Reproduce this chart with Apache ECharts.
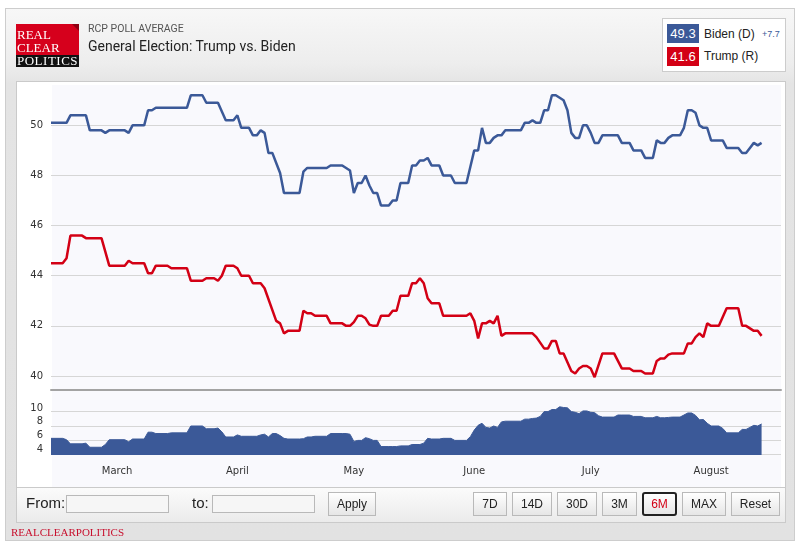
<!DOCTYPE html>
<html>
<head>
<meta charset="utf-8">
<script src="https://cdn.jsdelivr.net/npm/echarts@6/dist/echarts.min.js"></script>
<style>
  body{margin:0;width:800px;height:545px;background:#fff;position:relative;overflow:hidden;font-family:'Liberation Sans',Arial,sans-serif;}
  .abs{position:absolute;box-sizing:border-box;}
  #frame{left:5px;top:8px;width:790px;height:533px;border:1px solid #cdcdcd;background:linear-gradient(#f7f7f7 0px,#ededed 55px,#e4e4e4 75px,#e2e2e2 100%);z-index:0;}
  #panel{left:16px;top:81px;width:770px;height:407px;border:1px solid #cacaca;background:#fff;z-index:0;}
  #plotbg{left:52px;top:85px;width:729px;height:402px;background:#f9f9fd;z-index:0;}
  #ctrl{left:16px;top:487px;width:770px;height:36px;border:1px solid #cacaca;background:linear-gradient(#fbfbfb,#ebebeb);z-index:0;}
  #chart{left:0;top:0;width:800px;height:545px;z-index:1;}
  .txt{z-index:2;white-space:nowrap;}
  .serif{font-family:'Liberation Serif','Times New Roman',serif;}
  .btn{z-index:2;top:492px;height:24px;border:1px solid #b9b9b9;background:linear-gradient(#ffffff,#e6e6e6);font-size:12px;color:#222;text-align:center;line-height:22px;}
  .inp{z-index:2;top:495px;height:18px;width:103px;border:1px solid #b9b9b9;background:#f6f6f6;}
</style>
</head>
<body>
<div class="abs" id="frame"></div>
<div class="abs" id="panel"></div>
<div class="abs" id="plotbg"></div>
<div class="abs" id="ctrl"></div>

<!-- logo -->
<div class="abs" style="left:16px;top:24px;width:63px;height:31px;background:#d6001c;z-index:2;"></div>
<div class="abs" style="left:72px;top:24px;width:0;height:0;border-top:7px solid #8e0012;border-left:7px solid transparent;z-index:3;"></div>
<div class="abs" style="left:16px;top:55px;width:63px;height:12px;background:#111;z-index:2;"></div>
<div class="abs txt serif" style="left:17px;top:28px;font-size:13px;line-height:13px;color:#fff;z-index:3;">REAL</div>
<div class="abs txt serif" style="left:17px;top:41px;font-size:13px;line-height:13px;color:#fff;z-index:3;">CLEAR</div>
<div class="abs txt serif" style="left:17px;top:54px;font-size:13px;line-height:13px;color:#fff;letter-spacing:0.5px;z-index:3;">POLITICS</div>

<!-- header titles -->
<div class="abs txt" style="left:88px;top:23px;font-family:Roboto,sans-serif;font-size:10.5px;line-height:12px;color:#555;">RCP POLL AVERAGE</div>
<div class="abs txt" style="left:88px;top:38px;font-family:Roboto,sans-serif;font-size:14px;line-height:17px;color:#222;">General Election: Trump vs. Biden</div>

<!-- legend box -->
<div class="abs" style="left:662px;top:18px;width:124px;height:54px;border:1px solid #cccccc;background:#fff;z-index:2;"></div>
<div class="abs txt" style="left:667px;top:24px;width:32px;height:19px;background:#3b5998;color:#fff;font-size:13px;line-height:19px;text-align:center;z-index:3;">49.3</div>
<div class="abs txt" style="left:667px;top:47px;width:32px;height:19px;background:#d30015;color:#fff;font-size:13px;line-height:19px;text-align:center;z-index:3;">41.6</div>
<div class="abs txt" style="left:704px;top:27px;font-size:12px;line-height:14px;color:#222;z-index:3;">Biden (D)</div>
<div class="abs txt" style="left:762px;top:29px;font-size:9px;line-height:11px;color:#3b5998;z-index:3;">+7.7</div>
<div class="abs txt" style="left:704px;top:49px;font-size:12px;line-height:14px;color:#222;z-index:3;">Trump (R)</div>

<!-- controls -->
<div class="abs txt" style="left:26px;top:494px;font-size:15px;line-height:18px;color:#222;">From:</div>
<div class="abs inp" style="left:66px;"></div>
<div class="abs txt" style="left:192px;top:494px;font-size:15px;line-height:18px;color:#222;">to:</div>
<div class="abs inp" style="left:212px;"></div>
<div class="abs btn" style="left:328px;width:48px;">Apply</div>
<div class="abs btn" style="left:473px;width:34px;">7D</div>
<div class="abs btn" style="left:512px;width:40px;">14D</div>
<div class="abs btn" style="left:557px;width:40px;">30D</div>
<div class="abs btn" style="left:602px;width:35px;">3M</div>
<div class="abs btn" style="left:642px;width:35px;border:2px solid #222;border-radius:3px;color:#d30015;line-height:20px;">6M</div>
<div class="abs btn" style="left:682px;width:44px;">MAX</div>
<div class="abs btn" style="left:731px;width:49px;">Reset</div>
<div class="abs txt serif" style="left:11px;top:526px;font-size:11px;line-height:12px;color:#c8102e;">REALCLEARPOLITICS</div>

<div class="abs" id="chart"></div>

<script>
// ---- data (2020) ----
const monthNames = ['January','February','March','April','May','June','July','August','September','October','November','December'];
const axisStart = '2020-02-13';
const axisEnd = '2020-08-19';

const bidenDates = ['02-13','02-17','02-18','02-22','02-23','02-26','02-27','02-28','03-03','03-04','03-05','03-08','03-09','03-10','03-11','03-19','03-20','03-23','03-24','03-27','03-29','03-31','04-01','04-02','04-04','04-05','04-06','04-07','04-08','04-09','04-10','04-11','04-12','04-13','04-17','04-18','04-19','04-24','04-25','04-28','04-30','05-01','05-02','05-03','05-04','05-05','05-06','05-07','05-08','05-10','05-11','05-12','05-13','05-15','05-16','05-17','05-18','05-19','05-20','05-21','05-23','05-24','05-26','05-27','05-30','05-31','06-01','06-02','06-03','06-04','06-05','06-06','06-07','06-08','06-09','06-13','06-14','06-15','06-16','06-17','06-18','06-19','06-20','06-21','06-22','06-24','06-25','06-26','06-27','06-28','06-29','06-30','07-01','07-02','07-03','07-04','07-08','07-09','07-11','07-12','07-14','07-15','07-17','07-18','07-19','07-20','07-21','07-22','07-24','07-25','07-26','07-27','07-28','07-29','07-30','07-31','08-01','08-04','08-05','08-08','08-09','08-10','08-11','08-12','08-13','08-14'];
const bidenValues = [50.1,50.1,50.4,50.4,49.8,49.8,49.7,49.8,49.8,49.7,50.0,50.0,50.6,50.6,50.7,50.7,51.2,51.2,50.9,50.9,50.2,50.2,50.4,49.9,49.9,49.6,49.6,49.8,49.7,48.9,48.9,48.5,48.1,47.3,47.3,48.15,48.3,48.3,48.4,48.4,48.2,47.3,47.7,47.7,48.0,47.6,47.3,47.3,46.8,46.8,47.0,47.0,47.7,47.7,48.4,48.4,48.6,48.6,48.7,48.4,48.4,48.0,48.0,47.7,47.7,48.35,49.0,49.0,49.9,49.3,49.3,49.5,49.6,49.6,49.8,49.8,50.1,50.1,50.2,50.1,50.1,50.6,50.6,51.2,51.2,51.0,50.6,49.7,49.5,49.5,50.0,50.0,49.7,49.3,49.3,49.6,49.6,49.3,49.3,49.0,49.0,48.7,48.7,49.4,49.3,49.3,49.5,49.6,49.6,49.9,50.6,50.6,50.5,50.0,49.9,49.9,49.4,49.4,49.1,49.1,48.9,48.9,49.1,49.3,49.2,49.3];

const trumpDates = ['02-13','02-16','02-17','02-18','02-21','02-22','02-26','02-28','03-03','03-04','03-05','03-08','03-09','03-10','03-11','03-14','03-15','03-19','03-20','03-23','03-24','03-26','03-27','03-28','03-29','03-31','04-01','04-02','04-04','04-05','04-07','04-08','04-11','04-12','04-13','04-14','04-17','04-18','04-19','04-20','04-21','04-24','04-25','04-28','04-29','04-30','05-01','05-02','05-03','05-04','05-05','05-06','05-07','05-08','05-10','05-11','05-12','05-13','05-15','05-16','05-17','05-18','05-19','05-20','05-21','05-23','05-24','05-30','05-31','06-01','06-02','06-03','06-04','06-05','06-06','06-07','06-08','06-09','06-16','06-17','06-19','06-20','06-21','06-22','06-23','06-24','06-26','06-27','06-28','06-29','06-30','07-01','07-02','07-04','07-07','07-09','07-11','07-12','07-14','07-15','07-17','07-18','07-19','07-20','07-21','07-22','07-25','07-26','07-27','07-28','07-29','07-30','07-31','08-01','08-03','08-04','08-05','08-08','08-09','08-10','08-11','08-12','08-13','08-14'];
const trumpValues = [44.5,44.5,44.7,45.6,45.6,45.5,45.5,44.4,44.4,44.6,44.5,44.5,44.1,44.1,44.4,44.4,44.3,44.3,43.8,43.8,43.9,43.9,43.8,44.0,44.4,44.4,44.3,44.0,44.0,43.7,43.7,43.5,42.2,42.1,41.7,41.8,41.8,42.6,42.5,42.5,42.4,42.4,42.1,42.1,42.0,42.0,42.15,42.4,42.4,42.3,42.05,42.0,42.0,42.4,42.4,42.6,42.6,43.2,43.2,43.7,43.7,43.9,43.7,43.1,42.9,42.9,42.4,42.4,42.5,42.2,41.5,42.1,42.1,42.2,42.1,42.4,41.6,41.7,41.7,41.55,41.1,41.1,41.4,41.4,40.9,40.9,40.2,40.1,40.3,40.4,40.4,40.3,39.95,40.9,40.9,40.3,40.3,40.2,40.2,40.1,40.1,40.6,40.7,40.7,40.85,40.9,40.9,41.3,41.3,41.55,41.7,41.55,42.1,42.0,42.0,42.35,42.7,42.7,42.0,42.0,41.9,41.8,41.8,41.6];

const spreadDates = ['02-13','02-16','02-17','02-18','02-21','02-22','02-23','02-26','02-27','02-28','03-03','03-04','03-05','03-08','03-09','03-10','03-11','03-14','03-15','03-19','03-20','03-23','03-24','03-26','03-27','03-28','03-29','03-31','04-01','04-02','04-04','04-05','04-06','04-07','04-08','04-09','04-10','04-11','04-12','04-13','04-14','04-17','04-18','04-19','04-20','04-21','04-24','04-25','04-28','04-29','04-30','05-01','05-02','05-03','05-04','05-05','05-06','05-07','05-08','05-10','05-11','05-12','05-13','05-15','05-16','05-17','05-18','05-19','05-20','05-21','05-23','05-24','05-26','05-27','05-30','05-31','06-01','06-02','06-03','06-04','06-05','06-06','06-07','06-08','06-09','06-13','06-14','06-15','06-16','06-17','06-18','06-19','06-20','06-21','06-22','06-23','06-24','06-25','06-26','06-27','06-28','06-29','06-30','07-01','07-02','07-03','07-04','07-07','07-08','07-09','07-11','07-12','07-14','07-15','07-17','07-18','07-19','07-20','07-21','07-22','07-24','07-25','07-26','07-27','07-28','07-29','07-30','07-31','08-01','08-03','08-04','08-05','08-08','08-09','08-10','08-11','08-12','08-13','08-14'];
const spreadValues = [5.6,5.6,5.4,4.8,4.8,4.9,4.3,4.3,4.7,5.4,5.4,5.1,5.5,5.5,6.5,6.5,6.3,6.3,6.4,6.4,7.4,7.4,7.0,7.0,7.1,6.55,5.8,5.8,6.1,5.9,5.9,5.9,5.9,6.1,6.2,5.8,6.3,6.3,6.0,5.6,5.5,5.5,5.55,5.8,5.8,5.9,5.9,6.3,6.3,6.3,6.2,5.15,5.3,5.3,5.7,5.55,5.3,5.3,4.4,4.4,4.4,4.4,4.5,4.5,4.7,4.7,4.7,4.9,5.6,5.5,5.5,5.6,5.6,5.3,5.3,5.85,6.8,7.5,7.8,7.2,7.1,7.4,7.2,8.0,8.1,8.1,8.4,8.4,8.5,8.55,8.8,9.5,9.5,9.8,9.8,10.2,10.1,10.05,9.5,9.4,9.2,9.6,9.6,9.4,9.35,8.9,8.7,8.7,9.0,9.0,9.0,8.8,8.8,8.6,8.6,8.8,8.6,8.6,8.65,8.7,8.7,9.0,9.3,9.3,8.95,8.3,8.35,7.8,7.4,7.4,7.05,6.4,6.4,6.9,6.9,7.2,7.5,7.4,7.7];

function pairs(dates, values){ return dates.map((m,i)=>['2020-'+m, values[i]]); }

const BLUE = '#3b5998';
const RED = '#d30015';
const GRID = '#d6d6d6';
const labelStyle = {color:'#333', fontSize:10, fontFamily:'DejaVu Sans'};

const chart = echarts.init(document.getElementById('chart'), null, {renderer:'canvas', width:800, height:545});
chart.setOption({
  animation:false,
  backgroundColor:'transparent',
  grid:[
    {left:51, top:86, width:730, height:304},
    {left:51, top:399, width:730, height:56}
  ],
  xAxis:[
    {type:'time', gridIndex:0, min:axisStart, max:axisEnd,
     axisLine:{show:true, onZero:false, lineStyle:{color:'#a3a3a3', width:2}},
     axisTick:{show:false}, axisLabel:{show:false}, splitLine:{show:false}},
    {type:'time', gridIndex:1, min:axisStart, max:axisEnd, splitNumber:7,
     axisLine:{show:false}, axisTick:{show:false}, splitLine:{show:false},
     axisLabel:Object.assign({}, labelStyle, {margin:11, hideOverlap:false,
       formatter:function(v){const d=new Date(v); return d.getDate()===1 ? monthNames[d.getMonth()] : '';}})}
  ],
  yAxis:[
    {type:'value', gridIndex:0, min:39.44, max:51.57, splitNumber:6,
     axisLine:{show:false}, axisTick:{show:false},
     axisLabel:Object.assign({}, labelStyle, {margin:8, showMinLabel:false, showMaxLabel:false}),
     splitLine:{show:true, showMinLine:false, showMaxLine:false, lineStyle:{color:GRID, width:1}}},
    {type:'value', gridIndex:1, position:'left', min:3.17, max:11.34, splitNumber:5,
     axisLine:{show:false}, axisTick:{show:false},
     axisLabel:Object.assign({}, labelStyle, {margin:8, showMinLabel:false, showMaxLabel:false}),
     splitLine:{show:false}},
    {type:'value', gridIndex:1, position:'right', min:3.858, max:11.8, splitNumber:5,
     axisLine:{show:false}, axisTick:{show:false}, axisLabel:{show:false},
     splitLine:{show:true, showMinLine:false, showMaxLine:false, lineStyle:{color:GRID, width:1}}}
  ],
  series:[
    {name:'Biden (D)', type:'line', xAxisIndex:0, yAxisIndex:0, data:pairs(bidenDates,bidenValues),
     symbol:'none', lineStyle:{color:BLUE, width:2.5}, itemStyle:{color:BLUE}},
    {name:'Trump (R)', type:'line', xAxisIndex:0, yAxisIndex:0, data:pairs(trumpDates,trumpValues),
     symbol:'none', lineStyle:{color:RED, width:2.5}, itemStyle:{color:RED}},
    {name:'Spread', type:'line', xAxisIndex:1, yAxisIndex:1, data:pairs(spreadDates,spreadValues),
     symbol:'none', lineStyle:{color:BLUE, width:1}, itemStyle:{color:BLUE},
     areaStyle:{color:BLUE, opacity:1, origin:'start'}}
  ]
});
</script>
</body>
</html>
